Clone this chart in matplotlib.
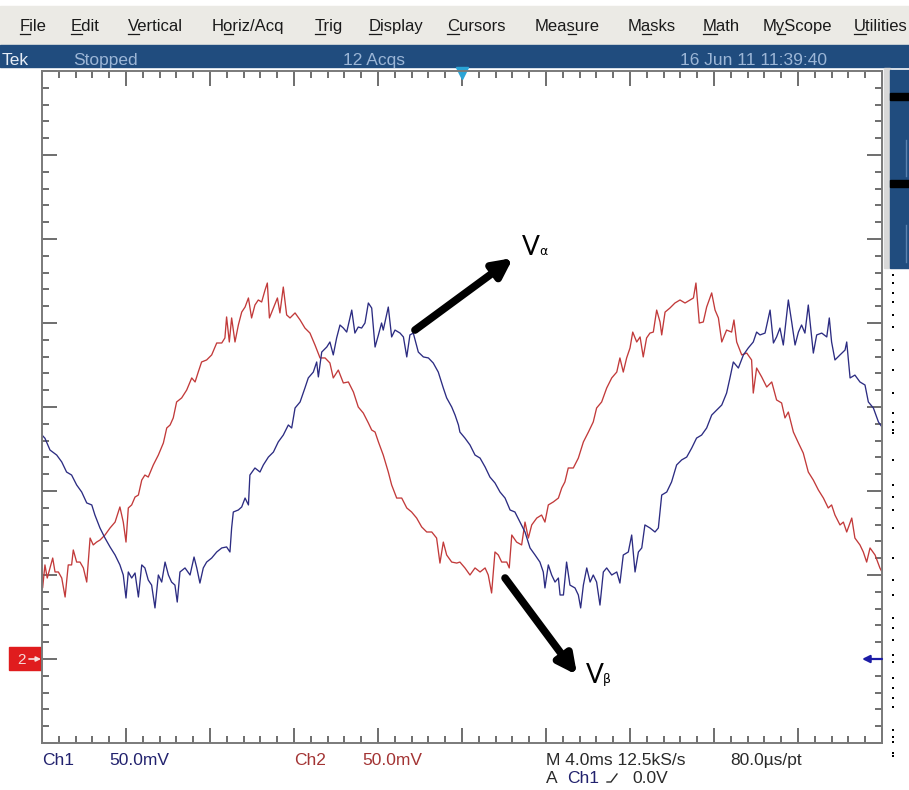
import matplotlib
matplotlib.use("Agg")
import numpy as np
import matplotlib.pyplot as plt
import matplotlib.transforms as mtransforms
from matplotlib.patches import Rectangle

# Ch1 (blue) trace: time in ms, amplitude in mV
t_ch1 = [
    -20.00, -19.86, -19.62, -19.30, -19.06, -18.83, -18.59, -18.35, -18.11, -17.87,
    -17.63, -17.48, -17.24, -17.00, -16.76, -16.52, -16.29, -16.13, -16.00, -15.89,
    -15.73, -15.57, -15.41, -15.25, -15.10, -14.94, -14.78, -14.62, -14.46, -14.30,
    -14.14, -13.98, -13.83, -13.67, -13.56, -13.43, -13.19, -12.95, -12.76, -12.63,
    -12.48, -12.32, -12.16, -11.92, -11.68, -11.44, -11.21, -11.05, -10.97, -10.89,
    -10.65, -10.49, -10.33, -10.17, -10.10, -9.86, -9.62, -9.46, -9.22, -8.98,
    -8.75, -8.51, -8.27, -8.11, -7.95, -7.71, -7.48, -7.32, -7.08, -6.92,
    -6.84, -6.68, -6.44, -6.29, -6.13, -5.97, -5.81, -5.65, -5.49, -5.25,
    -5.10, -4.94, -4.78, -4.62, -4.46, -4.30, -4.14, -3.98, -3.83, -3.75,
    -3.51, -3.35, -3.19, -2.95, -2.79, -2.63, -2.48, -2.32, -2.08, -1.84,
    -1.60, -1.37, -1.13, -0.89, -0.73, -0.49, -0.33, -0.17,
    -0.10, 0.14, 0.38, 0.62, 0.86, 1.10, 1.33, 1.57, 1.81, 2.05,
    2.29, 2.52, 2.76, 3.00, 3.24, 3.48, 3.71, 3.87, 3.95, 4.11,
    4.27, 4.43, 4.59, 4.67, 4.83, 4.98, 5.14, 5.38, 5.54, 5.65,
    5.78, 5.94, 6.10, 6.25, 6.41, 6.57, 6.73, 6.89, 7.13, 7.37,
    7.52, 7.68, 7.92, 8.08, 8.24, 8.40, 8.56, 8.71, 8.95, 9.19,
    9.35, 9.51, 9.75, 9.98, 10.22, 10.46, 10.70, 10.94, 11.17, 11.41,
    11.65, 11.89, 12.13, 12.37, 12.60, 12.76, 12.92, 13.16, 13.40, 13.63,
    13.87, 14.03, 14.19, 14.43, 14.67, 14.83, 14.98, 15.14, 15.30, 15.54,
    15.70, 15.86, 16.02, 16.17, 16.33, 16.49, 16.73, 16.89, 17.13, 17.37,
    17.49, 17.60, 17.76, 18.00, 18.24, 18.32, 18.48, 18.71, 18.95, 19.19,
    19.35, 19.59, 19.83, 20.00,
]
v_ch1 = [
    133.3, 131.4, 124.4, 121.4, 117.3, 111.3, 109.5, 103.6, 99.4, 92.9,
    91.7, 85.7, 78.0, 72.0, 66.7, 61.9, 56.0, 50.0, 36.3, 51.8,
    48.2, 51.2, 36.9, 56.0, 54.2, 47.0, 44.0, 30.4, 50.0, 45.8,
    57.7, 50.0, 45.8, 44.0, 33.9, 51.8, 54.2, 50.0, 60.7, 54.2,
    45.2, 54.2, 57.7, 60.1, 63.7, 66.1, 66.7, 63.7, 78.0, 87.5,
    88.7, 90.5, 95.8, 91.7, 109.5, 113.7, 111.3, 115.5, 120.2, 123.2,
    129.2, 133.3, 139.3, 137.5, 149.4, 153.0, 161.3, 167.3, 170.8, 176.8,
    167.9, 182.7, 185.7, 188.7, 181.0, 191.1, 198.8, 197.0, 194.6, 207.7,
    194.0, 197.6, 197.0, 200.0, 211.9, 208.9, 185.7, 192.9, 200.0, 195.8,
    209.5, 191.7, 195.8, 194.0, 191.7, 179.8, 192.9, 194.0, 182.7, 179.8,
    179.2, 176.2, 170.8, 161.3, 155.4, 150.0, 145.2, 139.3,
    135.1, 131.5, 127.4, 121.4, 119.6, 114.3, 108.3, 104.8, 99.4, 95.8,
    88.7, 87.5, 81.5, 75.6, 66.1, 61.9, 57.7, 51.8, 42.3, 56.0,
    50.0, 45.8, 48.2, 38.1, 38.1, 57.7, 44.0, 42.3, 38.1, 30.4,
    44.0, 54.2, 45.8, 50.0, 45.8, 32.1, 51.8, 54.2, 50.0, 51.8,
    45.2, 61.9, 63.7, 73.8, 51.8, 63.7, 66.1, 79.8, 78.0, 75.6,
    78.0, 97.6, 99.4, 105.4, 115.5, 118.5, 120.2, 125.6, 131.5, 133.3,
    137.5, 145.2, 148.2, 151.2, 158.3, 167.3, 176.8, 173.2, 181.0, 185.1,
    188.7, 194.6, 192.9, 194.0, 207.7, 188.1, 191.7, 197.0, 186.9, 213.7,
    200.6, 186.9, 194.6, 198.8, 194.0, 210.7, 182.1, 192.9, 194.0, 191.7,
    203.0, 188.7, 178.0, 181.0, 183.9, 188.7, 167.3, 169.0, 164.9, 163.1,
    153.0, 149.4, 141.1, 138.1,
]

# Ch2 (red) trace: time in ms, amplitude in mV
t_ch2 = [
    -20.00, -19.97, -19.86, -19.75, -19.62, -19.49, -19.38, -19.22, -19.06, -18.90,
    -18.75, -18.59, -18.51, -18.35, -18.19, -18.03, -17.87, -17.71, -17.56, -17.40,
    -17.24, -17.00, -16.76, -16.52, -16.29, -16.13, -16.00, -15.89, -15.73, -15.57,
    -15.41, -15.25, -15.10, -14.94, -14.70, -14.46, -14.22, -14.06, -13.90, -13.75,
    -13.59, -13.35, -13.11, -12.87, -12.71, -12.56, -12.40, -12.16, -11.92, -11.68,
    -11.44, -11.29, -11.21, -11.08, -10.97, -10.81, -10.65, -10.49, -10.33, -10.17,
    -10.02, -9.86, -9.70, -9.54, -9.38, -9.27, -9.17, -8.98, -8.79, -8.67,
    -8.51, -8.35, -8.19, -7.95, -7.71, -7.48, -7.24, -7.00, -6.76, -6.52,
    -6.29, -6.13, -5.89, -5.65, -5.41, -5.17, -4.94, -4.70, -4.46, -4.30,
    -4.14, -3.98, -3.75, -3.51, -3.35, -3.11, -2.87, -2.63, -2.40, -2.16,
    -1.92, -1.68, -1.44, -1.21, -1.05, -0.89, -0.73, -0.49, -0.25,
    -0.10, 0.14, 0.38, 0.62, 0.86, 1.10, 1.25, 1.41, 1.57, 1.73,
    1.89, 2.13, 2.25, 2.37, 2.60, 2.84, 3.00, 3.16, 3.32, 3.56,
    3.79, 3.95, 4.11, 4.35, 4.59, 4.75, 4.90, 5.06, 5.30, 5.54,
    5.78, 6.02, 6.25, 6.41, 6.65, 6.89, 7.13, 7.37, 7.52, 7.68,
    7.84, 8.00, 8.13, 8.32, 8.48, 8.63, 8.79, 8.95, 9.11, 9.27,
    9.43, 9.51, 9.67, 9.90, 10.14, 10.38, 10.62, 10.86, 11.02, 11.14,
    11.30, 11.49, 11.65, 11.89, 12.05, 12.21, 12.37, 12.60, 12.84, 12.95,
    13.08, 13.32, 13.56, 13.79, 13.87, 14.03, 14.27, 14.51, 14.75, 14.98,
    15.22, 15.38, 15.54, 15.78, 16.02, 16.25, 16.49, 16.73, 16.97, 17.21,
    17.44, 17.60, 17.76, 18.00, 18.16, 18.32, 18.56, 18.71, 18.95, 19.11,
    19.27, 19.43, 19.67, 19.90, 20.00,
]
v_ch2 = [
    54.2, 42.3, 56.0, 48.2, 54.2, 60.1, 51.8, 51.8, 48.2, 36.9,
    56.0, 56.0, 64.9, 57.7, 57.7, 54.2, 45.8, 72.0, 67.9, 69.6,
    70.8, 73.8, 78.0, 81.5, 90.5, 81.5, 69.6, 89.9, 91.7, 96.4,
    97.6, 106.5, 109.5, 108.3, 115.5, 121.4, 128.6, 137.5, 139.3, 143.5,
    153.0, 155.4, 160.1, 167.3, 164.9, 170.8, 176.8, 178.0, 181.0, 188.1,
    188.1, 191.1, 203.6, 188.7, 203.0, 188.7, 198.8, 206.5, 209.5, 214.9,
    203.0, 210.7, 213.7, 212.5, 219.6, 223.8, 203.0, 208.9, 214.9, 206.0,
    221.4, 204.8, 203.0, 206.0, 201.8, 197.0, 194.0, 186.9, 179.2, 179.2,
    176.2, 167.3, 172.0, 164.3, 164.9, 158.9, 150.0, 146.4, 140.5, 136.3,
    135.1, 129.2, 121.4, 111.3, 103.6, 95.8, 95.8, 89.9, 87.5, 83.9,
    78.6, 75.6, 75.6, 72.0, 57.1, 69.6, 61.9, 57.7, 57.1,
    57.7, 54.2, 50.0, 54.2, 51.8, 54.2, 50.0, 39.3, 63.7, 61.9,
    57.7, 57.7, 54.2, 73.8, 69.6, 67.9, 81.5, 72.0, 79.8, 83.9,
    85.7, 81.5, 91.7, 93.5, 95.8, 101.8, 105.4, 113.7, 113.7, 119.6,
    129.2, 135.1, 141.1, 149.4, 153.0, 161.3, 167.3, 170.8, 179.2, 170.8,
    179.2, 185.1, 194.6, 188.7, 191.7, 179.8, 191.1, 194.0, 194.6, 207.7,
    200.6, 192.9, 206.5, 208.9, 211.9, 213.7, 211.9, 213.7, 214.9, 223.8,
    200.0, 200.6, 209.5, 217.9, 207.7, 203.0, 188.7, 195.8, 194.6, 201.8,
    188.7, 181.0, 182.1, 178.0, 158.3, 173.2, 167.9, 161.9, 164.9, 154.2,
    152.4, 143.5, 147.0, 135.1, 128.6, 122.6, 111.3, 106.5, 100.6, 95.8,
    89.9, 91.7, 85.7, 79.8, 81.5, 75.6, 83.9, 72.0, 67.9, 63.7,
    57.7, 66.1, 61.9, 54.2, 51.8,
]

menu_items = ["File", "Edit", "Vertical", "Horiz/Acq", "Trig", "Display",
              "Cursors", "Measure", "Masks", "Math", "MyScope", "Utilities"]
menu_hotkey = [0, 0, 0, 1, 0, 0, 0, 3, 1, 0, 1, 0]

ms_per_div = 4.0
mv_per_div = 50.0

W, H = 909, 790
NAVY = "#204c7e"
BLUE = "#2c2c82"
RED = "#c23a3a"
FONT = "Liberation Sans"

fig = plt.figure(figsize=(W / 100, H / 100), dpi=100, facecolor="white")

# screen chrome drawn in pixel units
ui = fig.add_axes([0, 0, 1, 1], zorder=0)
ui.set_xlim(0, W)
ui.set_ylim(H, 0)
ui.axis("off")

ui.add_patch(Rectangle((0, 6), W, 39, color="#ebeae5"))
ui.add_patch(Rectangle((0, 45), W, 22, color=NAVY))

renderer = fig.canvas.get_renderer()


def text_w(s, **kw):
    t = ui.text(0, 0, s, **kw)
    w = t.get_window_extent(renderer).width
    t.remove()
    return w


menu_x = [20, 71, 128, 212, 315, 369, 447, 535, 628, 703, 763, 854]
for label, x, k in zip(menu_items, menu_x, menu_hotkey):
    kw = dict(fontsize=12, family=FONT)
    ui.text(x, 31, label, color="#1a1a1a", va="baseline", **kw)
    x0 = x + (text_w(label[:k], **kw) if k else 0)
    ui.plot([x0, x0 + text_w(label[k], **kw)], [33.5, 33.5], color="#1a1a1a", lw=0.9)

# status line
ui.text(2, 65, "Tek", fontsize=12.5, family=FONT, color="#e6edf6", va="baseline")
for x, s in [(73, "Stopped"), (343, "12 Acqs"), (680, "16 Jun 11 11:39:40")]:
    ui.text(x, 65, s, fontsize=12.5, family=FONT, color="#9cb6d6", va="baseline")

# side panel on the right
ui.add_patch(Rectangle((884, 68), 6, 200, color="#d8d8d8"))
ui.add_patch(Rectangle((890, 70), 19, 198, color=NAVY))
ui.add_patch(Rectangle((890, 93), 19, 7, color="black"))
ui.add_patch(Rectangle((890, 180), 19, 7, color="black"))
ui.plot([906, 906], [140, 176], color="#5a82b0", lw=1)
ui.plot([906, 906], [225, 262], color="#5a82b0", lw=1)
dots = [275, 283, 293, 302, 315, 327, 350, 370, 393, 413, 422, 430, 433, 460,
        485, 497, 510, 528, 558, 580, 595, 618, 628, 640, 655, 662, 678, 688,
        698, 707, 730, 737, 742, 753, 756]
ui.scatter([892.5] * len(dots), dots, s=3, marker="s", color="black", lw=0)

# Ch2 reference marker
ui.add_patch(Rectangle((9, 647), 33, 23, color="#e01c1e"))
ui.text(21, 659.5, "2", fontsize=11, family=FONT, color="#f6d8d8", ha="center", va="center")
ui.annotate("", xy=(41, 659), xytext=(29, 659),
            arrowprops=dict(arrowstyle="-|>", color="#f6e0e0", lw=1.2,
                            mutation_scale=7, shrinkA=0, shrinkB=0))

# readout
ui.text(42, 765, "Ch1", fontsize=12.5, family=FONT, color="#22226e", va="baseline")
ui.text(109, 765, "50.0mV", fontsize=12.5, family=FONT, color="#22226e", va="baseline")
ui.text(294, 765, "Ch2", fontsize=12.5, family=FONT, color="#a33434", va="baseline")
ui.text(362, 765, "50.0mV", fontsize=12.5, family=FONT, color="#a33434", va="baseline")
ui.text(546, 765, "M 4.0ms 12.5kS/s", fontsize=12.5, family=FONT, color="#2a2a2a", va="baseline")
ui.text(730, 765, "80.0\u00b5s/pt", fontsize=12.5, family=FONT, color="#2a2a2a", va="baseline")
ui.text(546, 783, "A", fontsize=12.5, family=FONT, color="#2a2a2a", va="baseline")
ui.text(567, 783, "Ch1", fontsize=12.5, family=FONT, color="#22226e", va="baseline")
ui.plot([607, 611, 617], [782, 782, 774], color="#2a2a2a", lw=1)
ui.text(632, 783, "0.0V", fontsize=12.5, family=FONT, color="#2a2a2a", va="baseline")

# graticule: 10 x 8 divisions
ax = fig.add_axes([42 / W, 1 - 743 / H, 840 / W, 672 / H], zorder=1)
ax.set_xlim(-5 * ms_per_div, 5 * ms_per_div)
ax.set_ylim(-1 * mv_per_div, 7 * mv_per_div)
ax.set_xticks(np.arange(-5, 6) * ms_per_div)
ax.set_xticks(np.arange(-25, 26) * ms_per_div / 5, minor=True)
ax.set_yticks(np.arange(-1, 8) * mv_per_div)
ax.set_yticks(np.arange(-5, 36) * mv_per_div / 5, minor=True)
ax.tick_params(which="both", direction="in", top=True, right=True,
               labelbottom=False, labelleft=False, color="#6e6e6e", width=1.4)
ax.tick_params(which="major", length=11)
ax.tick_params(which="minor", length=5)
for sp in ax.spines.values():
    sp.set_color("#7a7a7a")
    sp.set_linewidth(1.4)

ax.plot(t_ch2, v_ch2, color=RED, lw=0.95)
ax.plot(t_ch1, v_ch1, color=BLUE, lw=0.95)

# trigger position and Ch1 ground marker
trans = mtransforms.blended_transform_factory(ax.transData, ax.transAxes)
ax.plot([0], [0.9975], marker="v", ms=9, color="#2aa4d6", mec="#2aa4d6",
        transform=trans, clip_on=False)
ax.annotate("", xy=(19.05, 0), xytext=(20, 0),
            arrowprops=dict(arrowstyle="-|>", color="#1c1ca6", lw=1.6,
                            mutation_scale=11, shrinkA=0, shrinkB=0))

# phase labels
arrow = dict(arrowstyle="-|>", color="black", lw=5.5, mutation_scale=28,
             shrinkA=0, shrinkB=0)
ax.annotate("", xy=(2.43, 238.7), xytext=(-2.24, 195.8), arrowprops=arrow,
            annotation_clip=False)
ax.annotate("", xy=(5.48, -9.5), xytext=(2.05, 48.2), arrowprops=arrow,
            annotation_clip=False)
ax.text(2.86, 240.5, "V", fontsize=19, family="Lato", va="baseline", clip_on=False)
ax.text(3.70, 240.5, "\u03b1", fontsize=9, family="DejaVu Sans", va="baseline", clip_on=False)
ax.text(5.90, -14.3, "V", fontsize=19, family="Lato", va="baseline", clip_on=False)
ax.text(6.72, -14.3, "\u03b2", fontsize=9, family="DejaVu Sans", va="baseline", clip_on=False)

fig.savefig("out.png", dpi=100, facecolor="white")
